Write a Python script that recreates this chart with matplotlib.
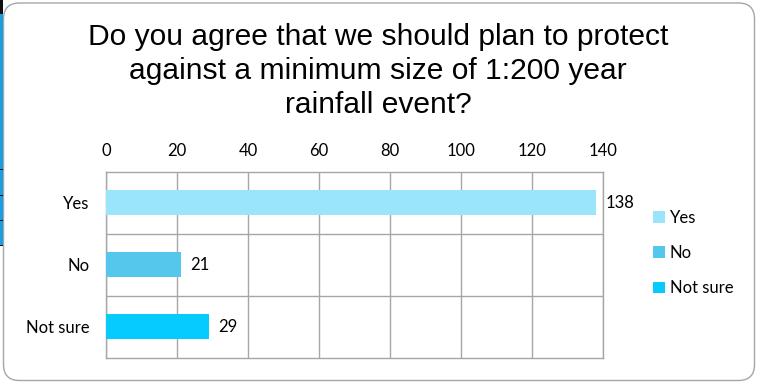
import matplotlib
matplotlib.use("Agg")
import matplotlib.pyplot as plt
from matplotlib.patches import FancyBboxPatch, Rectangle
from matplotlib.transforms import IdentityTransform

categories = ["Yes", "No", "Not sure"]
values = [138, 21, 29]
colors = ["#9be5fc", "#56c7ec", "#05ccfd"]
xticks = [0, 20, 40, 60, 80, 100, 120, 140]
title = "Do you agree that we should plan to protect\nagainst a minimum size of 1:200 year\nrainfall event?"

W, H = 761, 385
FS = 12
fig = plt.figure(figsize=(W / 100, H / 100), dpi=100)

# outer rounded frame
box = FancyBboxPatch((3.5, 4.5), 751, 377.5,
                     boxstyle="round,pad=0,rounding_size=16",
                     transform=IdentityTransform(), facecolor="none",
                     edgecolor="#a6a6a6", linewidth=1.0, zorder=-1)
fig.patches.append(box)
# left blue strip artefact
fig.patches.append(Rectangle((0, H - 245), 3, 245, transform=IdentityTransform(),
                             facecolor="#1a9ee2", edgecolor="none", zorder=-1))
fig.patches.append(Rectangle((0, H - 14), 3, 14, transform=IdentityTransform(),
                             facecolor="#111111", edgecolor="none", zorder=-1))
for yy in [169, 195, 220, 245]:
    fig.patches.append(Rectangle((0, H - yy - 1), 3, 1.5, transform=IdentityTransform(),
                                 facecolor="#111111", edgecolor="none", zorder=-1))

left, right, top, bottom = 106, 603, 171.5, 357.5
ax = fig.add_axes([left / W, 1 - bottom / H, (right - left) / W, (bottom - top) / H])
ax.set_facecolor("none")

ypos = list(range(len(categories)))
bars = ax.barh(ypos, values, height=0.4, color=colors, zorder=3)
ax.set_xlim(0, 140)
ax.set_ylim(len(categories) - 0.5, -0.5)
ax.set_yticks(ypos)
ax.set_yticklabels(categories, fontfamily="Lato", fontsize=FS)
ax.set_yticks([0.5, 1.5], minor=True)
ax.set_xticks(xticks)
ax.set_xticklabels([str(t) for t in xticks], fontfamily="Lato", fontsize=FS)
ax.xaxis.tick_top()
ax.tick_params(axis="x", which="both", length=0, pad=9)
ax.tick_params(axis="y", which="both", length=0, pad=12)
ax.grid(axis="x", which="major", color="#a6a6a6", linewidth=1.0, zorder=0)
ax.grid(axis="y", which="minor", color="#a6a6a6", linewidth=1.0, zorder=0)
for s in ax.spines.values():
    s.set_color("#a6a6a6")
    s.set_linewidth(1.0)

for b, v in zip(bars, values):
    ax.annotate(str(v), (v, b.get_y() + b.get_height() / 2), xytext=(7, 0),
                textcoords="offset points", va="center", ha="left",
                fontfamily="Lato", fontsize=FS)

fig.text(378 / W, 1 - 23 / H, title, ha="center", va="top",
         fontfamily="Liberation Sans", fontsize=21.6, linespacing=1.28)

handles = [Rectangle((0, 0), 1, 1, facecolor=c) for c in colors]
fig.legend(handles, categories, loc="upper left",
           bbox_to_anchor=(653 / W, 1 - 210 / H), frameon=False,
           prop={"family": "Lato", "size": FS}, handlelength=0.7,
           handleheight=0.7, handletextpad=0.3, labelspacing=1.15,
           borderaxespad=0, borderpad=0)

fig.savefig("out.png", dpi=100)
